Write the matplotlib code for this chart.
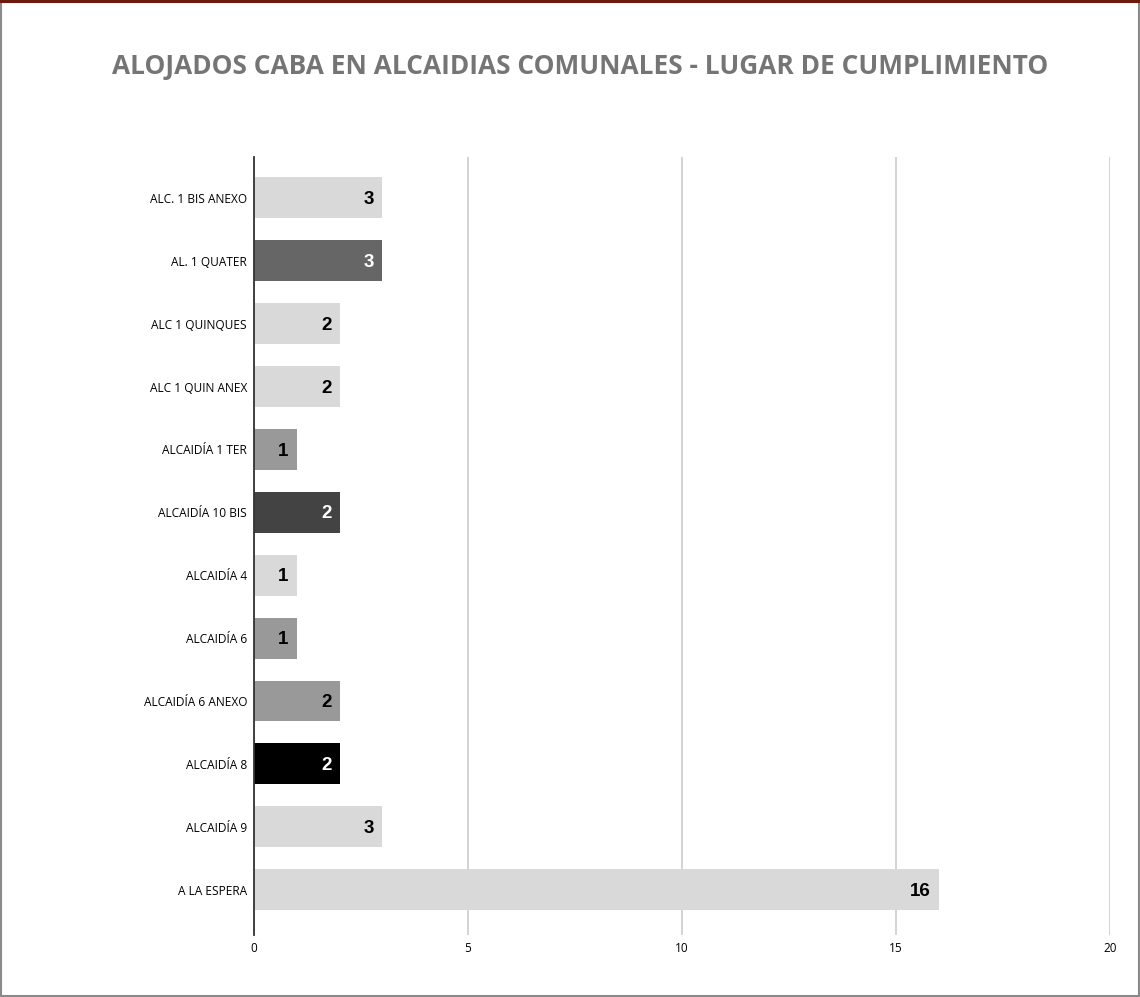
import matplotlib
matplotlib.use("Agg")
import matplotlib.pyplot as plt
from matplotlib.patches import Rectangle

categories = ["ALC. 1 BIS ANEXO", "AL. 1 QUATER", "ALC 1 QUINQUES", "ALC 1 QUIN ANEX",
              "ALCAIDÍA 1 TER", "ALCAIDÍA 10 BIS", "ALCAIDÍA 4", "ALCAIDÍA 6",
              "ALCAIDÍA 6 ANEXO", "ALCAIDÍA 8", "ALCAIDÍA 9", "A LA ESPERA"]
values = [3, 3, 2, 2, 1, 2, 1, 1, 2, 2, 3, 16]
colors = ["#d9d9d9", "#666666", "#d9d9d9", "#d9d9d9", "#999999", "#434343",
          "#d9d9d9", "#999999", "#999999", "#000000", "#d9d9d9", "#d9d9d9"]
label_colors = ["black", "white", "black", "black", "black", "white",
                "black", "black", "black", "white", "black", "black"]
xticks = [0, 5, 10, 15, 20]

W, H = 1140, 997
fig = plt.figure(figsize=(W / 100, H / 100), dpi=100)
ax = fig.add_axes([254 / W, 1 - 935 / H, (1110 - 254) / W, (935 - 157) / H])

pos = list(range(len(categories)))
ax.barh(pos, values, height=0.65, color=colors, zorder=3)
for p, v, lc in zip(pos, values, label_colors):
    ax.annotate(str(v), (v, p), xytext=(-6, 0.3), textcoords="offset points",
                ha="right", va="center_baseline", fontsize=13.5, fontweight="bold",
                color=lc, family="Liberation Sans", zorder=4)

ax.set_ylim(len(categories) - 1 + 0.72, -0.65)
ax.set_xlim(0, 20)
ax.set_xticks(xticks)
ax.set_xticklabels([str(t) for t in xticks], fontsize=8.5, family="Open Sans")
ax.set_yticks(pos)
ax.set_yticklabels(categories, fontsize=8.6, family="Open Sans")
ax.tick_params(length=0, pad=5)
ax.tick_params(axis="x", pad=5)
ax.grid(axis="x", color="#cccccc", linewidth=1.2, zorder=0)
for s in ["top", "right", "bottom"]:
    ax.spines[s].set_visible(False)
ax.spines["left"].set_color("#333333")
ax.spines["left"].set_linewidth(1.3)
ax.spines["left"].set_zorder(5)

fig.text(580 / W, 1 - 67 / H, "ALOJADOS CABA EN ALCAIDIAS COMUNALES - LUGAR DE CUMPLIMIENTO",
         ha="center", va="center", fontsize=18.9, fontweight="bold",
         color="#757575", family="Open Sans")

fig.patches.append(Rectangle((0.001, 0.001), 0.998, 0.997, transform=fig.transFigure,
                             fill=False, edgecolor="#8a8a8a", linewidth=1.5))
fig.patches.append(Rectangle((0, 1 - 3 / H), 1, 3 / H, transform=fig.transFigure,
                             facecolor="#6b1a0c", edgecolor="none"))

fig.savefig("out.png", dpi=100)
